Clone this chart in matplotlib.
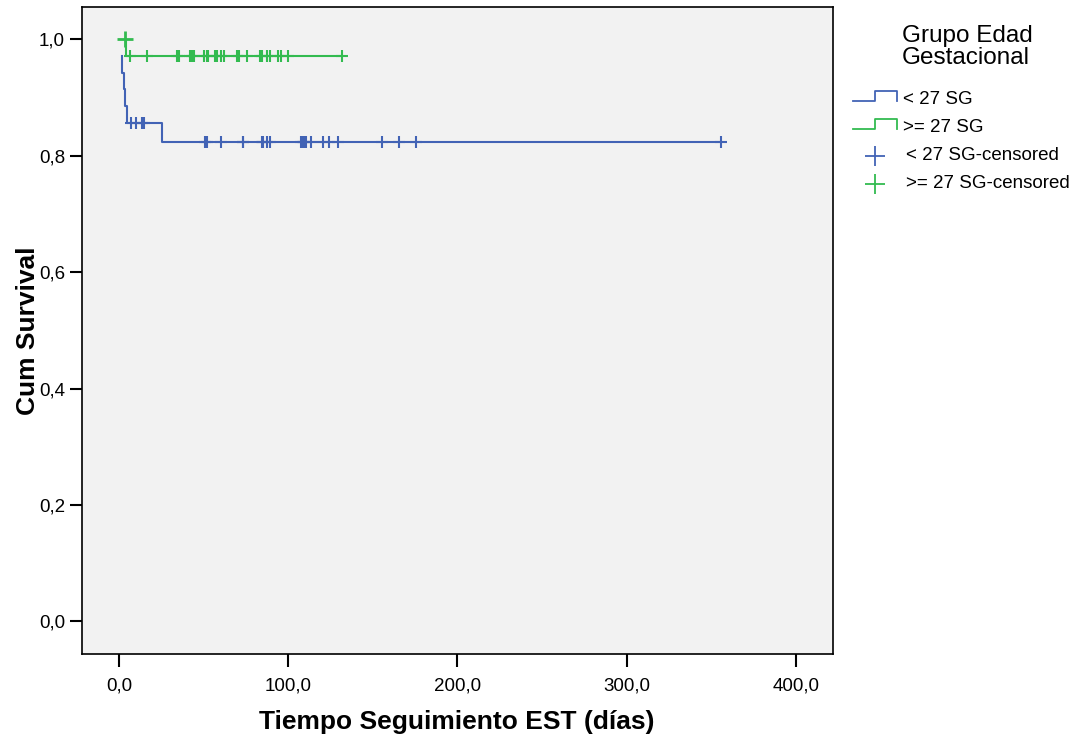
import matplotlib
matplotlib.use("Agg")
import matplotlib.pyplot as plt
from matplotlib.ticker import FuncFormatter

plt.rcParams["font.family"] = ["Liberation Sans", "DejaVu Sans"]

# Kaplan-Meier step curves (time in days, cumulative survival)
blue_times = [1.4, 1.4, 2.8, 3.4, 4.7, 25.1, 355.8]
blue_surv = [0.971, 0.943, 0.914, 0.886, 0.857, 0.824, 0.824]
green_times = [3.3, 4.3, 131.5]
green_surv = [1.0, 0.971, 0.971]

# censored observations
blue_cens_t = [6.9, 10.2, 13.4, 14.4,
               50.7, 52.0, 60.3, 73.0, 73.4, 84.2, 85.0, 87.2, 89.1,
               107.7, 108.5, 109.5, 110.5, 113.6, 120.6, 123.8, 129.2,
               155.5, 165.4, 175.5, 355.8]
blue_cens_s = [0.857] * 4 + [0.824] * 21
green_cens_t = [3.3, 6.3, 16.6, 33.9, 35.3, 41.8, 43.2, 44.4, 50.3, 51.7, 52.6,
                56.6, 57.6, 60.1, 61.9, 69.8, 71.0, 75.7, 83.2, 84.2, 87.5,
                89.1, 94.0, 95.4, 99.9, 131.5]
green_cens_s = [1.0] + [0.971] * 25

group_labels = ["< 27 SG", ">= 27 SG"]
legend_title = "Grupo Edad\nGestacional"
xticks = [0, 100, 200, 300, 400]
yticks = [0.0, 0.2, 0.4, 0.6, 0.8, 1.0]

blue = "#4263b5"
green = "#33bb50"

fig = plt.figure(figsize=(10.86, 7.40), dpi=100)
ax = fig.add_axes([0.0752, 0.1162, 0.6916, 0.8739])
ax.set_facecolor("#f2f2f2")

ax.plot(blue_times, blue_surv, drawstyle="steps-post", color=blue, lw=1.5)
ax.plot(green_times, green_surv, drawstyle="steps-post", color=green, lw=1.5)
ax.plot(blue_cens_t, blue_cens_s, ls="none", marker="+", ms=9, mew=1.5, color=blue)
ax.plot(green_cens_t[1:], green_cens_s[1:], ls="none", marker="+", ms=9, mew=1.5, color=green)
ax.plot(green_cens_t[:1], green_cens_s[:1], ls="none", marker="+", ms=11, mew=2, color=green)

ax.set_xlim(-22.2, 421.9)
ax.set_ylim(-0.056, 1.055)
ax.set_xticks(xticks)
ax.set_yticks(yticks)
ax.xaxis.set_major_formatter(FuncFormatter(lambda v, p: f"{v:.1f}".replace(".", ",")))
ax.yaxis.set_major_formatter(FuncFormatter(lambda v, p: f"{v:.1f}".replace(".", ",")))
ax.tick_params(direction="out", length=9, width=1.5, labelsize=13.5, pad=3)
ax.tick_params(axis="x", pad=8)
for s in ax.spines.values():
    s.set_linewidth(1.2)

ax.set_xlabel("Tiempo Seguimiento EST (días)", fontsize=19, fontweight="bold", labelpad=11)
ax.set_ylabel("Cum Survival", fontsize=19, fontweight="bold", labelpad=-1)

# legend drawn in pixel coordinates on an overlay axes
lg = fig.add_axes([0, 0, 1, 1])
lg.set_xlim(0, 1086)
lg.set_ylim(740, 0)
lg.axis("off")
lg.text(902, 47, legend_title, fontsize=17.5, va="center", ha="left", linespacing=1.0)
for i, (lab, col) in enumerate(zip(group_labels, [blue, green])):
    y0 = 101 + i * 28
    lg.plot([853, 875, 875, 897, 897], [y0, y0, y0 - 10, y0 - 10, y0], color=col, lw=1.3)
    lg.text(903, y0 - 1, lab, fontsize=13.5, va="center", ha="left")
for i, (lab, col) in enumerate(zip(group_labels, [blue, green])):
    y0 = 156 + i * 28
    lg.plot([875], [y0], marker="+", ms=15, mew=1.3, color=col)
    lg.text(906, y0, lab + "-censored", fontsize=13.5, va="center", ha="left")

fig.savefig("out.png", dpi=100)
